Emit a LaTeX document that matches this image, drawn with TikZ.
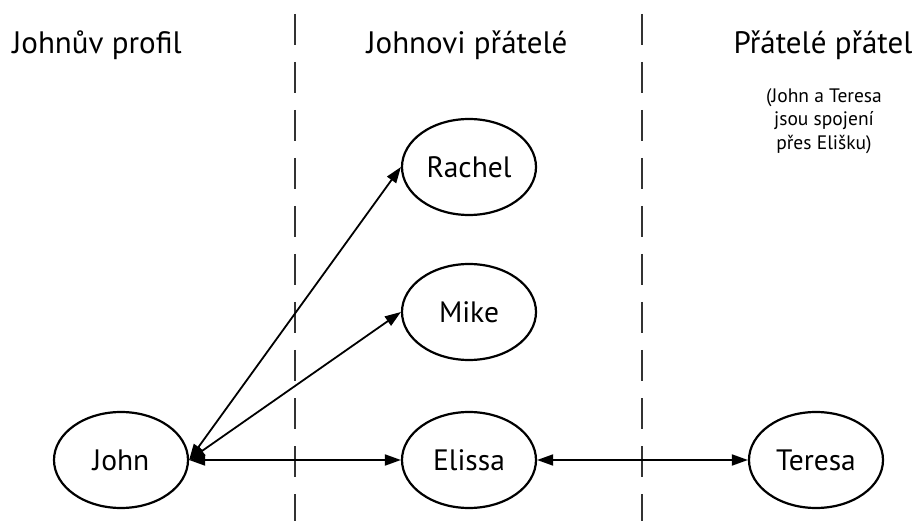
\documentclass[tikz,border=0pt]{standalone}
\usepackage{fontspec}
\setmainfont{PT Sans}
\usetikzlibrary{shapes.geometric,arrows.meta}
\tikzset{
  person/.style={ellipse, draw, line width=2.2pt, minimum width=134pt, minimum height=96pt,
    inner sep=0pt, font=\fontsize{29.5}{34}\selectfont},
  heading/.style={font=\fontsize{31}{36}\selectfont, anchor=base},
  note/.style={font=\fontsize{19.5}{23.5}\selectfont, align=center, anchor=north},
  link/.style={line width=1.8pt, {Triangle[length=16pt,width=11pt]}-{Triangle[length=16pt,width=11pt]}},
  divider/.style={line width=2.4pt, black!80, dash pattern=on 31pt off 17pt}
}
\begin{document}
\begin{tikzpicture}[x=1pt,y=-1pt]
\useasboundingbox (0,0) rectangle (916,521);

% column dividers
\draw[divider] (295,14) -- (295,521);
\draw[divider] (642,14) -- (642,521);

% column headings
\node[heading] (hprofile) at (97,54) {Johnův profil};
\node[heading] (hfriends) at (467,54) {Johnovi přátelé};
\node[heading] (hfof) at (823,54) {Přátelé přátel};
\node[note] (remark) at (824,85) {(John a Teresa\\jsou spojení\\přes Elišku)};

% people
\node[person] (john) at (121,460) {John};
\node[person] (rachel) at (469,167) {Rachel};
\node[person] (mike) at (469,312) {Mike};
\node[person] (elissa) at (469,460) {Elissa};
\node[person] (teresa) at (816,460) {Teresa};

% connections
\draw[link] (john.east) -- (rachel.west);
\draw[link] (john.east) -- (mike.west);
\draw[link] (john.east) -- (elissa.west);
\draw[link] (elissa.east) -- (teresa.west);
\end{tikzpicture}
\end{document}
